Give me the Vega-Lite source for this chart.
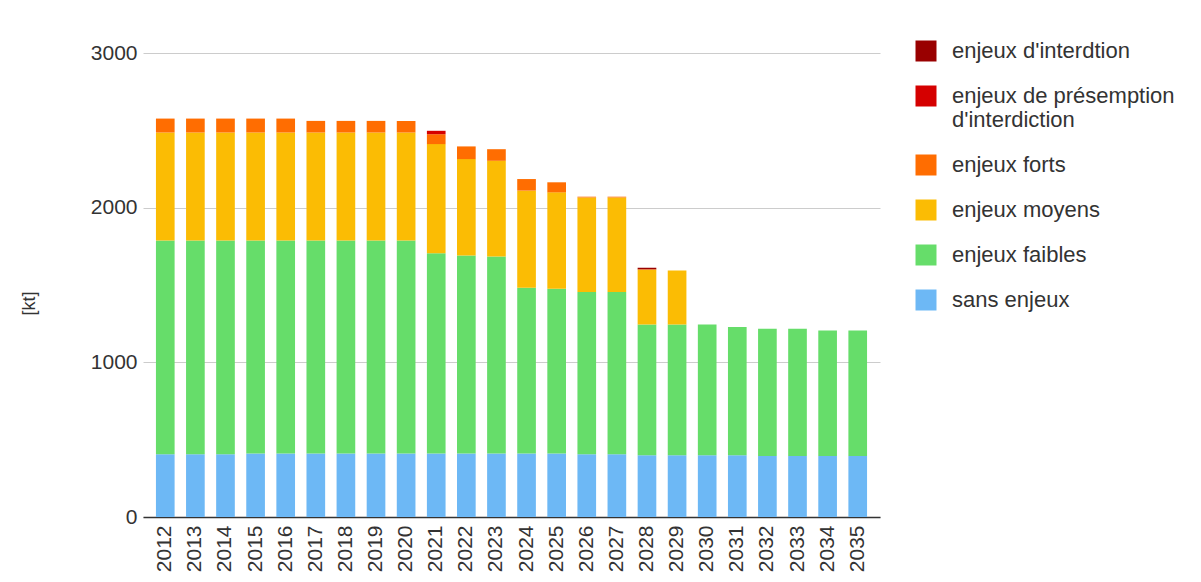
{
  "$schema": "https://vega.github.io/schema/vega-lite/v6.json",
  "autosize": {"type": "none"},
  "width": 737,
  "height": 464,
  "padding": {"left": 143, "top": 53, "right": 321, "bottom": 65},
  "background": "white",
  "config": {
    "font": "Liberation Sans",
    "view": {"stroke": null}
  },
  "data": {
    "values": [
      {"annee": "2012", "serie": "sans enjeux", "niveau": 1, "kt": 405},
      {"annee": "2012", "serie": "enjeux faibles", "niveau": 2, "kt": 1382},
      {"annee": "2012", "serie": "enjeux moyens", "niveau": 3, "kt": 699},
      {"annee": "2012", "serie": "enjeux forts", "niveau": 4, "kt": 90},
      {"annee": "2013", "serie": "sans enjeux", "niveau": 1, "kt": 405},
      {"annee": "2013", "serie": "enjeux faibles", "niveau": 2, "kt": 1382},
      {"annee": "2013", "serie": "enjeux moyens", "niveau": 3, "kt": 699},
      {"annee": "2013", "serie": "enjeux forts", "niveau": 4, "kt": 90},
      {"annee": "2014", "serie": "sans enjeux", "niveau": 1, "kt": 405},
      {"annee": "2014", "serie": "enjeux faibles", "niveau": 2, "kt": 1382},
      {"annee": "2014", "serie": "enjeux moyens", "niveau": 3, "kt": 699},
      {"annee": "2014", "serie": "enjeux forts", "niveau": 4, "kt": 90},
      {"annee": "2015", "serie": "sans enjeux", "niveau": 1, "kt": 410},
      {"annee": "2015", "serie": "enjeux faibles", "niveau": 2, "kt": 1377},
      {"annee": "2015", "serie": "enjeux moyens", "niveau": 3, "kt": 699},
      {"annee": "2015", "serie": "enjeux forts", "niveau": 4, "kt": 90},
      {"annee": "2016", "serie": "sans enjeux", "niveau": 1, "kt": 410},
      {"annee": "2016", "serie": "enjeux faibles", "niveau": 2, "kt": 1377},
      {"annee": "2016", "serie": "enjeux moyens", "niveau": 3, "kt": 699},
      {"annee": "2016", "serie": "enjeux forts", "niveau": 4, "kt": 90},
      {"annee": "2017", "serie": "sans enjeux", "niveau": 1, "kt": 410},
      {"annee": "2017", "serie": "enjeux faibles", "niveau": 2, "kt": 1377},
      {"annee": "2017", "serie": "enjeux moyens", "niveau": 3, "kt": 699},
      {"annee": "2017", "serie": "enjeux forts", "niveau": 4, "kt": 75},
      {"annee": "2018", "serie": "sans enjeux", "niveau": 1, "kt": 410},
      {"annee": "2018", "serie": "enjeux faibles", "niveau": 2, "kt": 1377},
      {"annee": "2018", "serie": "enjeux moyens", "niveau": 3, "kt": 699},
      {"annee": "2018", "serie": "enjeux forts", "niveau": 4, "kt": 75},
      {"annee": "2019", "serie": "sans enjeux", "niveau": 1, "kt": 410},
      {"annee": "2019", "serie": "enjeux faibles", "niveau": 2, "kt": 1377},
      {"annee": "2019", "serie": "enjeux moyens", "niveau": 3, "kt": 699},
      {"annee": "2019", "serie": "enjeux forts", "niveau": 4, "kt": 75},
      {"annee": "2020", "serie": "sans enjeux", "niveau": 1, "kt": 410},
      {"annee": "2020", "serie": "enjeux faibles", "niveau": 2, "kt": 1377},
      {"annee": "2020", "serie": "enjeux moyens", "niveau": 3, "kt": 699},
      {"annee": "2020", "serie": "enjeux forts", "niveau": 4, "kt": 75},
      {"annee": "2021", "serie": "sans enjeux", "niveau": 1, "kt": 410},
      {"annee": "2021", "serie": "enjeux faibles", "niveau": 2, "kt": 1295},
      {"annee": "2021", "serie": "enjeux moyens", "niveau": 3, "kt": 706},
      {"annee": "2021", "serie": "enjeux forts", "niveau": 4, "kt": 64},
      {"annee": "2021", "serie": "enjeux de présemption d'interdiction", "niveau": 5, "kt": 22},
      {"annee": "2022", "serie": "sans enjeux", "niveau": 1, "kt": 410},
      {"annee": "2022", "serie": "enjeux faibles", "niveau": 2, "kt": 1280},
      {"annee": "2022", "serie": "enjeux moyens", "niveau": 3, "kt": 624},
      {"annee": "2022", "serie": "enjeux forts", "niveau": 4, "kt": 82},
      {"annee": "2023", "serie": "sans enjeux", "niveau": 1, "kt": 410},
      {"annee": "2023", "serie": "enjeux faibles", "niveau": 2, "kt": 1274},
      {"annee": "2023", "serie": "enjeux moyens", "niveau": 3, "kt": 619},
      {"annee": "2023", "serie": "enjeux forts", "niveau": 4, "kt": 75},
      {"annee": "2024", "serie": "sans enjeux", "niveau": 1, "kt": 410},
      {"annee": "2024", "serie": "enjeux faibles", "niveau": 2, "kt": 1072},
      {"annee": "2024", "serie": "enjeux moyens", "niveau": 3, "kt": 628},
      {"annee": "2024", "serie": "enjeux forts", "niveau": 4, "kt": 75},
      {"annee": "2025", "serie": "sans enjeux", "niveau": 1, "kt": 410},
      {"annee": "2025", "serie": "enjeux faibles", "niveau": 2, "kt": 1065},
      {"annee": "2025", "serie": "enjeux moyens", "niveau": 3, "kt": 624},
      {"annee": "2025", "serie": "enjeux forts", "niveau": 4, "kt": 65},
      {"annee": "2026", "serie": "sans enjeux", "niveau": 1, "kt": 405},
      {"annee": "2026", "serie": "enjeux faibles", "niveau": 2, "kt": 1049},
      {"annee": "2026", "serie": "enjeux moyens", "niveau": 3, "kt": 612},
      {"annee": "2026", "serie": "enjeux forts", "niveau": 4, "kt": 5},
      {"annee": "2027", "serie": "sans enjeux", "niveau": 1, "kt": 405},
      {"annee": "2027", "serie": "enjeux faibles", "niveau": 2, "kt": 1049},
      {"annee": "2027", "serie": "enjeux moyens", "niveau": 3, "kt": 612},
      {"annee": "2027", "serie": "enjeux forts", "niveau": 4, "kt": 5},
      {"annee": "2028", "serie": "sans enjeux", "niveau": 1, "kt": 400},
      {"annee": "2028", "serie": "enjeux faibles", "niveau": 2, "kt": 845},
      {"annee": "2028", "serie": "enjeux moyens", "niveau": 3, "kt": 353},
      {"annee": "2028", "serie": "enjeux forts", "niveau": 4, "kt": 4},
      {"annee": "2028", "serie": "enjeux d'interdtion", "niveau": 6, "kt": 9},
      {"annee": "2029", "serie": "sans enjeux", "niveau": 1, "kt": 400},
      {"annee": "2029", "serie": "enjeux faibles", "niveau": 2, "kt": 845},
      {"annee": "2029", "serie": "enjeux moyens", "niveau": 3, "kt": 349},
      {"annee": "2030", "serie": "sans enjeux", "niveau": 1, "kt": 400},
      {"annee": "2030", "serie": "enjeux faibles", "niveau": 2, "kt": 845},
      {"annee": "2031", "serie": "sans enjeux", "niveau": 1, "kt": 400},
      {"annee": "2031", "serie": "enjeux faibles", "niveau": 2, "kt": 828},
      {"annee": "2032", "serie": "sans enjeux", "niveau": 1, "kt": 395},
      {"annee": "2032", "serie": "enjeux faibles", "niveau": 2, "kt": 822},
      {"annee": "2033", "serie": "sans enjeux", "niveau": 1, "kt": 395},
      {"annee": "2033", "serie": "enjeux faibles", "niveau": 2, "kt": 822},
      {"annee": "2034", "serie": "sans enjeux", "niveau": 1, "kt": 395},
      {"annee": "2034", "serie": "enjeux faibles", "niveau": 2, "kt": 811},
      {"annee": "2035", "serie": "sans enjeux", "niveau": 1, "kt": 395},
      {"annee": "2035", "serie": "enjeux faibles", "niveau": 2, "kt": 811}
    ]
  },
  "mark": {"type": "bar"},
  "encoding": {
    "x": {
      "field": "annee",
      "type": "ordinal",
      "scale": {"paddingInner": 0.38, "paddingOuter": 0.43},
      "axis": {
        "title": null,
        "labelAngle": -90,
        "labelFontSize": 21,
        "labelColor": "#333",
        "labelPadding": 8,
        "ticks": false,
        "domainColor": "#333",
        "domainWidth": 1.5
      }
    },
    "y": {
      "field": "kt",
      "type": "quantitative",
      "aggregate": "sum",
      "stack": "zero",
      "scale": {"domain": [0, 3000], "nice": false},
      "axis": {
        "title": "[kt]",
        "titleFontWeight": "normal",
        "titleFontSize": 18,
        "titleColor": "#333",
        "titleX": -105,
        "titleY": 250,
        "values": [0, 1000, 2000, 3000],
        "format": "d",
        "labelFontSize": 21,
        "labelColor": "#333",
        "labelPadding": 6,
        "ticks": false,
        "domain": false,
        "gridColor": "#cccccc"
      }
    },
    "color": {
      "field": "serie",
      "type": "nominal",
      "scale": {
        "domain": ["enjeux d'interdtion", "enjeux de présemption d'interdiction", "enjeux forts", "enjeux moyens", "enjeux faibles", "sans enjeux"],
        "range": ["#990000", "#d50000", "#ff6d01", "#fbbc04", "#66dd6a", "#6db8f5"]
      },
      "legend": {
        "title": null,
        "orient": "none",
        "legendX": 772,
        "legendY": -13,
        "padding": 0,
        "symbolType": "square",
        "symbolSize": 441,
        "symbolStrokeWidth": 0,
        "symbolOpacity": 1,
        "labelFontSize": 22,
        "labelColor": "#333",
        "labelOffset": 15,
        "labelLimit": 400,
        "rowPadding": 23,
        "labelExpr": "indexof(datum.label, 'présemption') >= 0 ? ['enjeux de présemption', \"d'interdiction\"] : datum.label"
      }
    },
    "order": {"field": "niveau", "type": "quantitative", "sort": "ascending"}
  }
}
